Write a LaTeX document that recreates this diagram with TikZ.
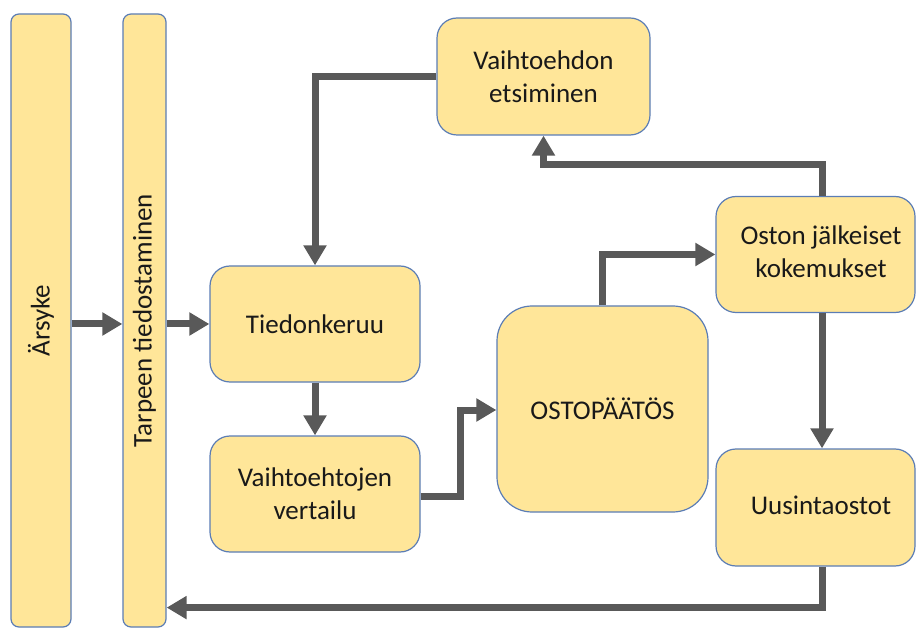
\documentclass[tikz,border=0pt]{standalone}
\usepackage{fontspec}
\setmainfont{Carlito}
\usetikzlibrary{arrows.meta}
\definecolor{boxfill}{HTML}{FFE699}
\definecolor{boxline}{HTML}{5B7DB5}
\definecolor{arrowc}{HTML}{595959}
\begin{document}
\begin{tikzpicture}[x=1pt,y=-1pt,
  box/.style={draw=boxline, line width=1.2pt, fill=boxfill, rounded corners=20pt,
    align=center, font=\fontsize{27}{33}\selectfont, text=black!90, inner sep=0pt},
  bar/.style={draw=boxline, line width=1.2pt, fill=boxfill, rounded corners=8pt, inner sep=0pt},
  bartext/.style={rotate=90, font=\fontsize{27}{33}\selectfont, text=black!90, inner sep=0pt},
  arr/.style={draw=arrowc, line width=7pt, -{Triangle[length=20pt,width=22pt]}}]
\useasboundingbox (0,0) rectangle (916,628);
% bars
\node[bar, minimum width=60pt, minimum height=613pt] (arsyke) at (41,320.5) {};
\node[bartext] at (arsyke.center) {Ärsyke};
\node[bar, minimum width=43pt, minimum height=613pt] (tarpeen) at (144.5,320.5) {};
\node[bartext] at (tarpeen.center) {Tarpeen tiedostaminen};
% boxes
\node[box, minimum width=210pt, minimum height=116pt] (tied) at (315,324) {Tiedonkeruu};
\node[box, minimum width=210pt, minimum height=116pt] (vert) at (315,494) {Vaihtoehtojen\\vertailu};
\node[box, minimum width=213pt, minimum height=117pt] (etsi) at (543.5,76.5) {Vaihtoehdon\\etsiminen};
\node[box, rounded corners=35pt, minimum width=211pt, minimum height=206pt] (osto) at (602.5,409) {OSTOPÄÄTÖS};
\node[box, minimum width=199pt, minimum height=116pt] (jalk) at (815.5,254.5)
  {\begin{tabular}{@{\hspace{11pt}}c@{}}Oston jälkeiset\\kokemukset\end{tabular}};
\node[box, minimum width=199pt, minimum height=117pt] (uus) at (815.5,507.5)
  {\begin{tabular}{@{\hspace{11pt}}c@{}}Uusintaostot\end{tabular}};
% connectors
\draw[arr] (arsyke.east |- tied.west) -- (tarpeen.west |- tied.west);
\draw[arr] (tarpeen.east |- tied.west) -- (tied.west);
\draw[arr] (tied.south) -- (vert.north);
\draw[arr] (etsi.west) -| (tied.north);
\draw[arr] ([yshift=-2pt]vert.east) -- ++(40,0) |- ([yshift=-1pt]osto.west);
\draw[arr] (osto.north) |- (jalk.west);
\draw[arr] ([xshift=6.5pt]jalk.south) -- ([xshift=6.5pt]uus.north);
\draw[arr] ([xshift=6.5pt]jalk.north) -- ++(0,-31.5) -| (etsi.south);
\draw[arr] ([xshift=6.5pt]uus.south) -- ++(0,41) coordinate (ret) -- (tarpeen.east |- ret);
\end{tikzpicture}
\end{document}
